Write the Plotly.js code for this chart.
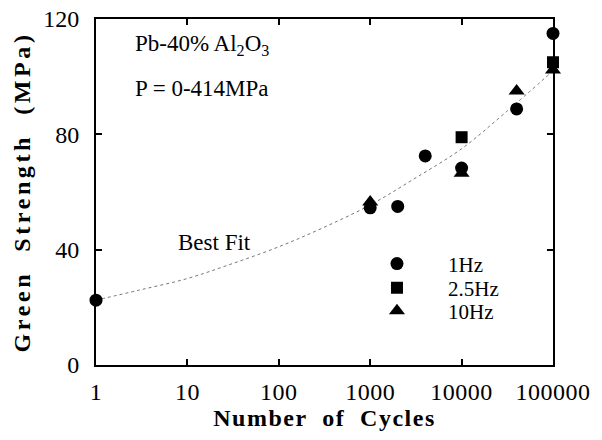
<!DOCTYPE html>
<html><head><meta charset="utf-8">
<script src="https://cdn.plot.ly/plotly-3.0.1.min.js"></script>
<style>
html,body{margin:0;padding:0;background:#fff}#chart{width:602px;height:440px}
#chart .xtick text{letter-spacing:0.5px}
#chart .xtitle{letter-spacing:1.5px}
#chart .ytitle{letter-spacing:3.6px}
</style>
</head><body><div id="chart"></div>
<script>
// Data
const cycles1Hz = [1, 1000, 2000, 4000, 10000, 40000, 100000];
const strength1Hz = [22.5, 54.5, 55, 72.5, 68.3, 88.8, 115];
const cycles25Hz = [10000, 100000];
const strength25Hz = [79, 105];
const cycles10Hz = [1000, 10000, 40000, 100000];
const strength10Hz = [56.5, 66.5, 95, 102.3];
const fitCycles = [1, 3, 10, 30, 100, 300, 1000, 3000, 10000, 30000, 100000];
const fitStrength = [22.5, 26, 30, 35, 41, 47.5, 55.5, 64.5, 75, 87.5, 102];
const xTickVals = [1, 10, 100, 1000, 10000, 100000];
const xTickText = ['1', '10', '100', '1000', '10000', '100000'];
const yTickVals = [0, 40, 80, 120];
const yTickText = ['0', '40', '80', '120'];

const serif = 'Liberation Serif';
const legendBase = {xanchor: 'left', yanchor: 'middle', bgcolor: 'rgba(0,0,0,0)', font: {family: serif, size: 21, color: '#000'}, itemwidth: 92};
const traces = [
  {x: fitCycles, y: fitStrength, mode: 'lines', line: {color: '#777', width: 1, dash: 'dot', shape: 'spline'}, showlegend: false, hoverinfo: 'skip'},
  {x: cycles1Hz, y: strength1Hz, mode: 'markers', name: '1Hz', legend: 'legend', marker: {symbol: 'circle', size: 13, color: '#000'}, cliponaxis: false},
  {x: cycles25Hz, y: strength25Hz, mode: 'markers', name: '2.5Hz', legend: 'legend2', marker: {symbol: 'square', size: 12, color: '#000'}, cliponaxis: false},
  {x: cycles10Hz, y: strength10Hz, mode: 'markers', name: '10Hz', legend: 'legend3', marker: {symbol: 'triangle-up', size: 14, color: '#000'}, cliponaxis: false}
];
const layout = {
  width: 602, height: 440,
  margin: {l: 96, r: 49, t: 19, b: 75},
  paper_bgcolor: '#fff', plot_bgcolor: '#fff',
  font: {family: serif, size: 23, color: '#000'},
  showlegend: true,
  legend: Object.assign({x: 0.547, y: 0.292}, legendBase),
  legend2: Object.assign({x: 0.547, y: 0.2225}, legendBase),
  legend3: Object.assign({x: 0.547, y: 0.156}, legendBase),
  xaxis: {type: 'log', range: [0, 5], tickmode: 'array', tickvals: xTickVals, ticktext: xTickText, ticks: 'inside', ticklen: 6, tickwidth: 2, tickcolor: '#000',
    showline: true, linewidth: 2, linecolor: '#000', mirror: 'ticks', showgrid: false, zeroline: false, ticklabelstandoff: 4,
    tickfont: {family: serif, size: 24, color: '#000'}, title: {text: '<b>Number  of  Cycles</b>', font: {family: serif, size: 24, color: '#000'}, standoff: 1}},
  yaxis: {range: [0, 120], tickmode: 'array', tickvals: yTickVals, ticktext: yTickText, ticks: 'inside', ticklen: 6, tickwidth: 2, tickcolor: '#000',
    showline: true, linewidth: 2, linecolor: '#000', mirror: 'ticks', showgrid: false, zeroline: false, ticklabelstandoff: 10,
    tickfont: {family: serif, size: 24, color: '#000'}, title: {text: '<b>Green  Strength  (MPa)</b>', font: {family: serif, size: 24, color: '#000'}, standoff: 6}},
  annotations: [
    {xref: 'paper', yref: 'paper', x: 0.08, y: 0.925, xanchor: 'left', yanchor: 'middle', text: 'Pb-40% Al<sub>2</sub>O<sub>3</sub>', showarrow: false, font: {family: serif, size: 23}},
    {xref: 'paper', yref: 'paper', x: 0.08, y: 0.8, xanchor: 'left', yanchor: 'middle', text: 'P = 0-414MPa', showarrow: false, font: {family: serif, size: 23}},
    {xref: 'paper', yref: 'paper', x: 0.175, y: 0.353, xanchor: 'left', yanchor: 'middle', text: 'Best Fit', showarrow: false, font: {family: serif, size: 23}}
  ]
};
Plotly.newPlot('chart', traces, layout, {displayModeBar: false, staticPlot: true});
</script></body></html>
